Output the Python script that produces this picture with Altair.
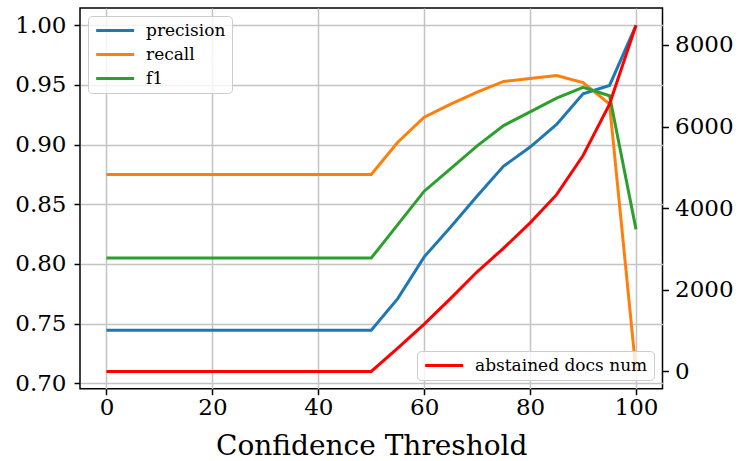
import altair as alt
import pandas as pd

# Confidence thresholds swept from 0 to 100 in steps of 5
thresholds = [0, 5, 10, 15, 20, 25, 30, 35, 40, 45, 50,
              55, 60, 65, 70, 75, 80, 85, 90, 95, 100]

precision = [0.7445] * 11 + [0.771, 0.806, 0.831, 0.857, 0.882,
                             0.898, 0.917, 0.9426, 0.9496, 1.000]
recall = [0.875] * 11 + [0.902, 0.923, 0.934, 0.944, 0.953,
                         0.9555, 0.958, 0.952, 0.934, 0.710]
f1 = [0.805] * 11 + [0.833, 0.861, 0.880, 0.899, 0.916,
                     0.9275, 0.939, 0.948, 0.941, 0.829]
abstained = [0] * 11 + [570, 1160, 1790, 2440, 3020,
                        3640, 4330, 5290, 6550, 8480]

metric_names = ["precision", "recall", "f1"]
metric_colors = ["#1f77b4", "#ff7f0e", "#2ca02c"]
count_name = "abstained docs num"

metrics = pd.DataFrame({
    "threshold": thresholds * 3,
    "metric": [m for m in metric_names for _ in thresholds],
    "score": precision + recall + f1,
})
counts = pd.DataFrame({
    "threshold": thresholds,
    "series": [count_name] * len(thresholds),
    "docs": abstained,
})

FONT = "DejaVu Serif"
GRID = "#c4c4c4"

x_enc = alt.X(
    "threshold:Q",
    scale=alt.Scale(domain=[-5, 105], nice=False, zero=False),
    axis=alt.Axis(
        values=[0, 20, 40, 60, 80, 100],
        title="Confidence Threshold",
        titleFont=FONT, titleFontSize=28, titleFontWeight="normal",
        titleColor="black", titleBaseline="alphabetic", titleY=66,
        labelPadding=2,
    ),
)

legend_common = dict(
    title=None,
    fillColor="rgba(255,255,255,0.8)",
    strokeColor="#cccccc",
    cornerRadius=4,
    padding=6,
    symbolType="M-1,0H5",
    symbolSize=160,
    symbolStrokeWidth=3,
    labelFont=FONT,
    labelFontSize=17,
    labelColor="black",
    labelOffset=35,
    labelLimit=400,
)

score_lines = alt.Chart(metrics).mark_line(strokeWidth=3).encode(
    x=x_enc,
    y=alt.Y(
        "score:Q",
        scale=alt.Scale(domain=[0.6955, 1.0145], nice=False, zero=False),
        axis=alt.Axis(
            orient="left", values=[0.70, 0.75, 0.80, 0.85, 0.90, 0.95, 1.00],
            format=".2f", title=None, labelPadding=8,
        ),
    ),
    color=alt.Color(
        "metric:N",
        scale=alt.Scale(domain=metric_names, range=metric_colors),
        legend=alt.Legend(orient="top-left", offset=8, rowPadding=6,
                          **legend_common),
    ),
    detail="metric:N",
)

count_line = alt.Chart(counts).mark_line(strokeWidth=3).encode(
    x=x_enc,
    y=alt.Y(
        "docs:Q",
        scale=alt.Scale(domain=[-424, 8904], nice=False, zero=False),
        axis=alt.Axis(
            orient="right", values=[0, 2000, 4000, 6000, 8000],
            format="d", title=None, labelPadding=6,
        ),
    ),
    color=alt.Color(
        "series:N",
        scale=alt.Scale(domain=[count_name], range=["#ff0000"]),
        legend=alt.Legend(orient="bottom-right", offset=9, **legend_common),
    ),
)

chart = (
    alt.layer(score_lines, count_line)
    .resolve_scale(y="independent", color="independent")
    .properties(
        width=582.5,
        height=380.7,
        padding={"left": 80, "top": 8, "right": 75.5, "bottom": 72.3},
        autosize=alt.AutoSizeParams(type="none"),
        background="white",
    )
    .configure_view(stroke="black", strokeWidth=1.5)
    .configure_axis(
        domain=False,
        grid=True,
        gridColor=GRID,
        gridWidth=1.5,
        gridOpacity=1,
        ticks=True,
        tickColor="black",
        tickWidth=1.5,
        tickSize=6,
        labelFont=FONT,
        labelFontSize=23,
        labelColor="black",
    )
)

chart.save("out.html", embed_options={"renderer": "svg", "actions": False})
